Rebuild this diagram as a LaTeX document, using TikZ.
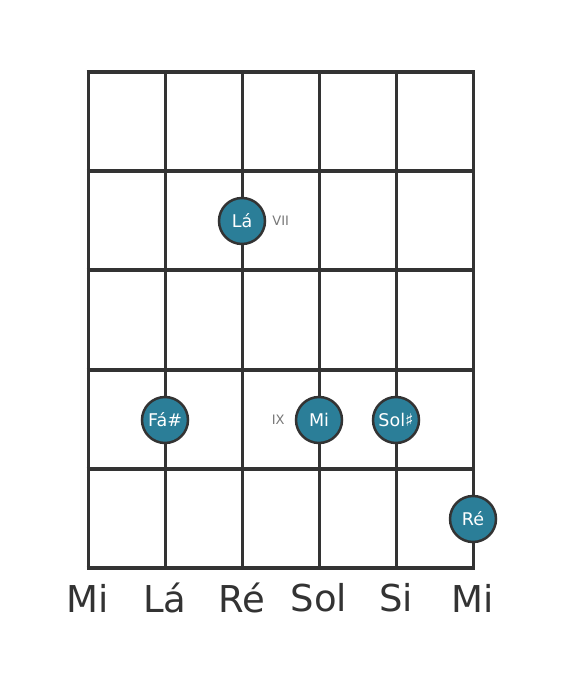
\documentclass[tikz,border=0pt]{standalone}
\usepackage{fontspec}
\setmainfont{DejaVu Sans}
\definecolor{fretgray}{HTML}{333333}
\definecolor{noteteal}{HTML}{2B7E98}
\definecolor{labelgray}{HTML}{777777}
\tikzset{
  note/.style={circle,draw=fretgray,line width=2.5pt,fill=noteteal,minimum size=46pt,inner sep=0pt,text=white,font=\fontsize{17.5}{17.5}\selectfont},
  fretlabel/.style={text=labelgray,font=\fontsize{13}{13}\selectfont,inner sep=0pt},
  stringname/.style={text=fretgray,font=\fontsize{37}{37}\selectfont}
}
\begin{document}
\begin{tikzpicture}[x=1pt,y=-1pt]
\useasboundingbox (0,0) rectangle (568,682);
\foreach \x in {88,165,242,319,396,473} {
    \draw[fretgray,line width=3pt] (\x,72) -- (\x,568);
}
\foreach \y in {72,171,270,370,469,568} {
    \draw[fretgray,line width=4.2pt] (86.5,\y) -- (474.5,\y);
}
\node[note] (la) at (242,221) {Lá};
\node[note] (fas) at (165,420) {Fá\#};
\node[note] (mi) at (319,420) {Mi};
\node[note] (sols) at (396,420) {Sol♯};
\node[note] (re) at (473,519) {Ré};
\node[fretlabel,anchor=west] (vii) at ([xshift=6pt]la.east) {VII};
\node[fretlabel,anchor=east] (ix) at ([xshift=-10pt]mi.west) {IX};
\foreach \x/\s [count=\i] in {88/Mi,165/Lá,242/Ré,319/Sol,396/Si,473/Mi} {
    \node[stringname] (s\i) at (\x,598) {\s};
}
\end{tikzpicture}
\end{document}
